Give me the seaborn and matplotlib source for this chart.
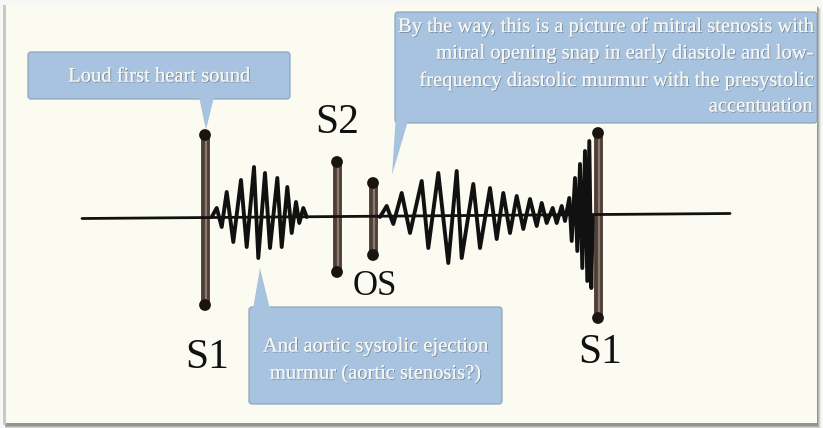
import matplotlib
matplotlib.use("Agg")
import matplotlib.pyplot as plt
import seaborn as sns
import pandas as pd
from matplotlib.patches import Rectangle, FancyBboxPatch, Polygon
import matplotlib.patheffects as pe

# ---------------- data (time in px-like units, amplitude up) ----------------
baseline_t = [82, 730]
baseline_amp = [-1.5, 3.5]

systolic_t = [211.7, 216.7, 221.7, 226.7, 233.3, 241.0, 246.7, 254.0, 258.3, 265.0,
              270.0, 277.3, 281.7, 287.3, 291.7, 296.0, 299.3, 303.3, 306.7]
systolic_amp = [0, 9, -10, 25, -25, 37, -30, 50, -41, 44,
                -31, 39, -30, 30, -16, 15, -6, 9, 0]

diastolic_t = [380.0, 386.7, 393.3, 401.7, 410.0, 421.7, 428.3, 438.3, 448.3, 456.7,
               461.7, 473.3, 480.0, 490.0, 496.7, 503.3, 510.0, 516.7, 523.3, 530.0,
               536.7, 541.7, 546.7, 552.7, 556.7, 561.7, 565.0, 569.3, 571.7, 575.0,
               577.3, 580.0, 582.3, 585.0, 587.3, 589.3, 591.3, 592.7]
diastolic_amp = [0, 11, -7, 24, -16, 36, -31, 44, -46, 46,
                 -41, 33, -31, 29, -22, 24, -16, 21, -12, 18,
                 -9, 14, -6, 9, -6, 11, -4, 19, -24, 39,
                 -34, 53, -51, 66, -64, 76, -71, 0]

sound_names = ["S1", "S2", "OS", "S1"]
sound_t = [205, 337, 373, 598]
sound_top = [82, 55, 34, 84]
sound_bottom = [-88, -55, -38, -101]

callout_1 = ["Loud first heart sound"]
callout_2 = ["By the way, this is a picture of mitral stenosis with",
             "mitral opening snap in early diastole and low-",
             "frequency diastolic murmur with the presystolic",
             "accentuation"]
callout_3 = ["And aortic systolic ejection", "murmur (aortic stenosis?)"]

# ---------------- figure ----------------
sns.set_theme(style="white")
plt.rcParams["font.family"] = ["Liberation Serif", "DejaVu Serif"]

W, H = 823, 428
fig = plt.figure(figsize=(W / 100, H / 100), dpi=100, facecolor="#f7f7f5")
ax = fig.add_axes([0, 0, 1, 1])
ax.set_xlim(0, W)
ax.set_ylim(-(H - 217), 217)
ax.axis("off")


def Y(py):
    return 217 - py


# frame with soft shadow
for off, a in [(5, 0.10), (4, 0.15), (3, 0.25), (2, 0.35)]:
    ax.add_patch(Rectangle((6 - 2 + off * 0.3, Y(424 + off)), 811 + off, 420,
                           facecolor="#5a5a5a", alpha=a, lw=0, zorder=0))
ax.add_patch(Rectangle((3, Y(425)), 3, 420, facecolor="#c9c9c9", lw=0, zorder=0.5))
ax.add_patch(Rectangle((6, Y(423)), 811, 418, facecolor="#fcfbf1", lw=0, zorder=1))

# sound bars (cylinders)
bar_df = pd.DataFrame({"name": sound_names, "t": sound_t,
                       "top": sound_top, "bottom": sound_bottom})
for _, r in bar_df.iterrows():
    sns.lineplot(x=[r.t, r.t], y=[r.bottom, r.top], color="#4f3f37", linewidth=6.4,
                 sort=False, estimator=None, ax=ax, zorder=3,
                 solid_capstyle="butt")
    sns.lineplot(x=[r.t + 0.8, r.t + 0.8], y=[r.bottom + 3, r.top - 3], color="#8a7a70",
                 linewidth=1.6, sort=False, estimator=None, ax=ax, zorder=3.1,
                 solid_capstyle="butt")

# baseline and waveforms
sns.lineplot(x=baseline_t, y=baseline_amp, color="#111111", linewidth=2.0,
             sort=False, estimator=None, ax=ax, zorder=4)
sns.lineplot(x=systolic_t, y=systolic_amp, color="#111111", linewidth=2.8,
             sort=False, estimator=None, ax=ax, zorder=4)
sns.lineplot(x=diastolic_t, y=diastolic_amp, color="#111111", linewidth=2.8,
             sort=False, estimator=None, ax=ax, zorder=4)

# bar end caps
caps = pd.DataFrame({"t": sound_t + sound_t, "amp": sound_top + sound_bottom})
sns.scatterplot(data=caps, x="t", y="amp", color="#1b1512", s=72, marker="o",
                edgecolor="none", ax=ax, zorder=5)

# sound labels
lab_kw = dict(color="#111111", ha="center", va="baseline", zorder=6)
label_pos = [(207, 368, 30), (337, 133, 30), (375, 295, 25), (600, 363, 30)]
for name, (lx, ly, fs) in zip(sound_names, label_pos):
    ax.text(lx, Y(ly), name, fontsize=fs, **lab_kw)

# callouts
BOX = "#a8c3df"
EDGE = "#8fa6bf"
txt_fx = [pe.withSimplePatchShadow(offset=(0.7, -0.7), shadow_rgbFace="#4c5866", alpha=0.5),
          pe.Normal()]


def callout(x0, y0, x1, y1, tri):
    ax.add_patch(FancyBboxPatch((x0, Y(y1)), x1 - x0, y1 - y0,
                                boxstyle="round,pad=0,rounding_size=3",
                                facecolor=BOX, edgecolor=EDGE, lw=0.9, zorder=7))
    ax.add_patch(Polygon([(px, Y(py)) for px, py in tri], closed=True,
                         facecolor=BOX, edgecolor="none", zorder=7.1))


callout(28, 52, 290, 99, [(199, 97), (214, 97), (206, 130)])
callout(395, 12, 817, 123, [(395.5, 121), (408, 121), (392, 175)])
callout(249, 307, 502, 404, [(253, 309), (270, 309), (260, 268)])

tkw = dict(color="#f6f6f1", fontsize=14.8, zorder=8, path_effects=txt_fx)
ax.text(159, Y(77), callout_1[0], ha="center", va="center", **tkw)
for line, py in zip(callout_2, [27, 54, 81, 107]):
    ax.text(812, Y(py), line, ha="right", va="center", **tkw)
for line, py in zip(callout_3, [347, 374]):
    ax.text(375, Y(py), line, ha="center", va="center", **tkw)

fig.savefig("out.png", dpi=100, facecolor=fig.get_facecolor())
